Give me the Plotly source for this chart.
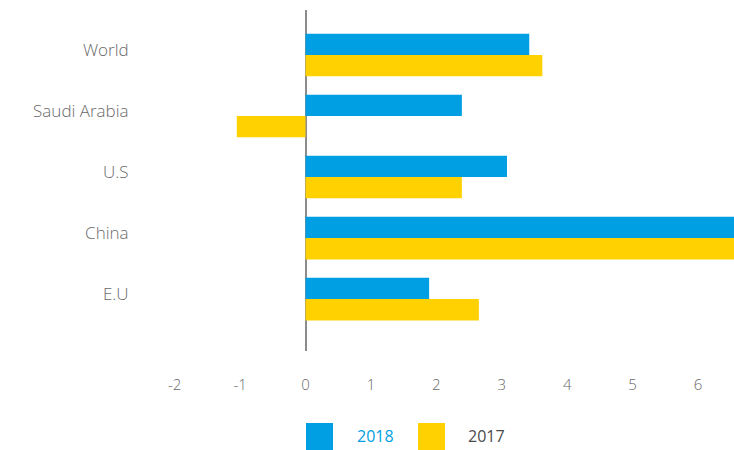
import plotly.graph_objects as go

categories = ["E.U", "China", "U.S", "Saudi Arabia", "World"]
values_2018 = [1.89, 6.6, 3.08, 2.39, 3.42]
values_2017 = [2.65, 6.9, 2.39, -1.05, 3.62]
x_ticks = [-2, -1, 0, 1, 2, 3, 4, 5, 6]
x_tick_labels = ["-2", "-1", "0", "1", "2", "3", "4", "5", "6"]
series_names = ["2018", "2017"]

BLUE = "#009FE3"
YELLOW = "#FFD100"
FONT = "Open Sans"
GRAY = "#6a6a6a"

W, H = 734, 450
L, R, T, B = 140, 0, 10, 99
pw, ph = W - L - R, H - T - B

fig = go.Figure()
fig.add_trace(go.Bar(y=categories, x=values_2017, orientation="h", name=series_names[1],
                     marker=dict(color=YELLOW, line=dict(width=0)), showlegend=False))
fig.add_trace(go.Bar(y=categories, x=values_2018, orientation="h", name=series_names[0],
                     marker=dict(color=BLUE, line=dict(width=0)), showlegend=False))

def px_x(p):
    return (p - L) / pw

def px_y(p):
    return (H - B - p) / ph

# custom legend (large square swatches)
legend_items = [(306, BLUE, series_names[0], BLUE, 375), (418, YELLOW, series_names[1], "#4a4a4a", 486)]
for x0, col, label, tcol, tx in legend_items:
    fig.add_shape(type="rect", xref="paper", yref="paper",
                  x0=px_x(x0), x1=px_x(x0 + 27), y0=px_y(450), y1=px_y(423),
                  fillcolor=col, line=dict(width=0))
    fig.add_annotation(xref="paper", yref="paper", x=px_x(tx), y=px_y(436), text=label,
                       showarrow=False, xanchor="center", yanchor="middle",
                       font=dict(family=FONT, size=16, color=tcol))

fig.update_layout(
    width=W, height=H,
    margin=dict(l=L, r=R, t=T, b=B),
    barmode="group", bargap=0.30, bargroupgap=0,
    plot_bgcolor="white", paper_bgcolor="white",
    font=dict(family=FONT, size=16, color=GRAY),
    xaxis=dict(range=[-2.53, 6.55], tickvals=x_ticks, ticktext=x_tick_labels, showgrid=False,
               zeroline=True, zerolinecolor="#8c8c8c", zerolinewidth=1.5,
               showline=False, ticks="outside", ticklen=20, tickcolor="rgba(0,0,0,0)",
               tickfont=dict(family=FONT, size=15, color=GRAY, weight=300)),
    yaxis=dict(categoryorder="array", categoryarray=categories, range=[-0.852, 4.738],
               showgrid=False, zeroline=False, showline=False,
               ticks="outside", ticklen=7, tickcolor="rgba(0,0,0,0)",
               ticklabelshift=-5,
               tickfont=dict(family=FONT, size=17, color=GRAY, weight=300)),
)

fig.write_html("out.html", config={"displayModeBar": False},
               post_script="document.body.style.margin='0';document.body.style.padding='0';")
